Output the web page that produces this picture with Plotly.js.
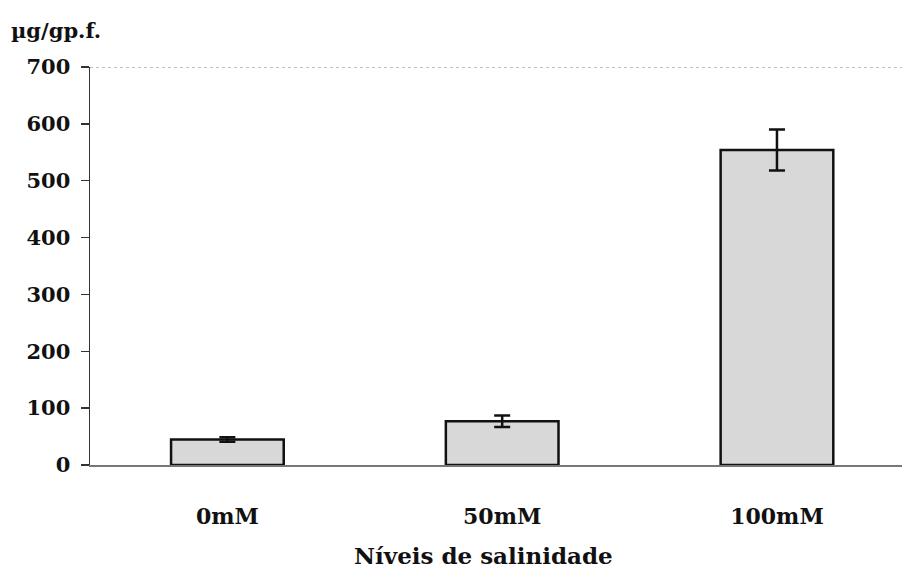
<!DOCTYPE html>
<html>
<head>
<meta charset="utf-8">
<script src="https://cdn.plot.ly/plotly-3.0.1.min.js"></script>
<style>html,body{margin:0;padding:0;background:#fff;}#chart{width:902px;height:569px;}</style>
</head>
<body>
<div id="chart"></div>
<script>
const categories = ["0mM", "50mM", "100mM"];
const values = [45, 77, 554];
const errors = [4, 10, 36];
const yTicks = [0, 100, 200, 300, 400, 500, 600, 700];

const fontFam = "DejaVu Serif, serif";

const trace = {
  type: "bar",
  x: categories,
  y: values,
  width: 0.41,
  marker: {color: "#d8d8d8", line: {color: "#111", width: 2.5}},
  error_y: {type: "data", array: errors, visible: true, color: "#111", thickness: 2.5, width: 8}
};

const layout = {
  width: 902, height: 569,
  margin: {l: 90, r: 0, t: 67, b: 104},
  paper_bgcolor: "#fff", plot_bgcolor: "#fff",
  showlegend: false,
  font: {family: fontFam, color: "#111"},
  xaxis: {
    type: "category",
    range: [-0.5, 2.455],
    showline: true, linecolor: "#777", linewidth: 2,
    ticks: "", showgrid: false, zeroline: false,
    tickfont: {family: fontFam, size: 22, color: "#111", weight: "bold"},
    ticklabelstandoff: 31
  },
  yaxis: {
    range: [0, 700],
    tickvals: yTicks,
    showline: true, linecolor: "#333", linewidth: 1.5,
    ticks: "outside", ticklen: 8, tickcolor: "#333", tickwidth: 1.5,
    showgrid: false, zeroline: false,
    tickfont: {family: fontFam, size: 21, color: "#111", weight: "bold"},
    ticklabelstandoff: 6
  },
  shapes: [{
    type: "line", xref: "paper", yref: "y", x0: 0, x1: 1, y0: 700, y1: 700,
    line: {color: "#aaa", width: 1.5, dash: "dot"}
  }],
  annotations: [{
    text: "<b>µg/gp.f.</b>", xref: "paper", yref: "paper", x: -0.1, y: 1.0, yshift: 37,
    xanchor: "left", yanchor: "middle", showarrow: false,
    font: {family: fontFam, size: 21, color: "#111"}
  }, {
    text: "<b>Níveis de salinidade</b>", xref: "paper", yref: "paper", x: 0.484, y: 0, yshift: -90,
    xanchor: "center", yanchor: "middle", showarrow: false,
    font: {family: fontFam, size: 23, color: "#111"}
  }]
};

Plotly.newPlot("chart", [trace], layout, {displayModeBar: false, staticPlot: true});
</script>
</body>
</html>
